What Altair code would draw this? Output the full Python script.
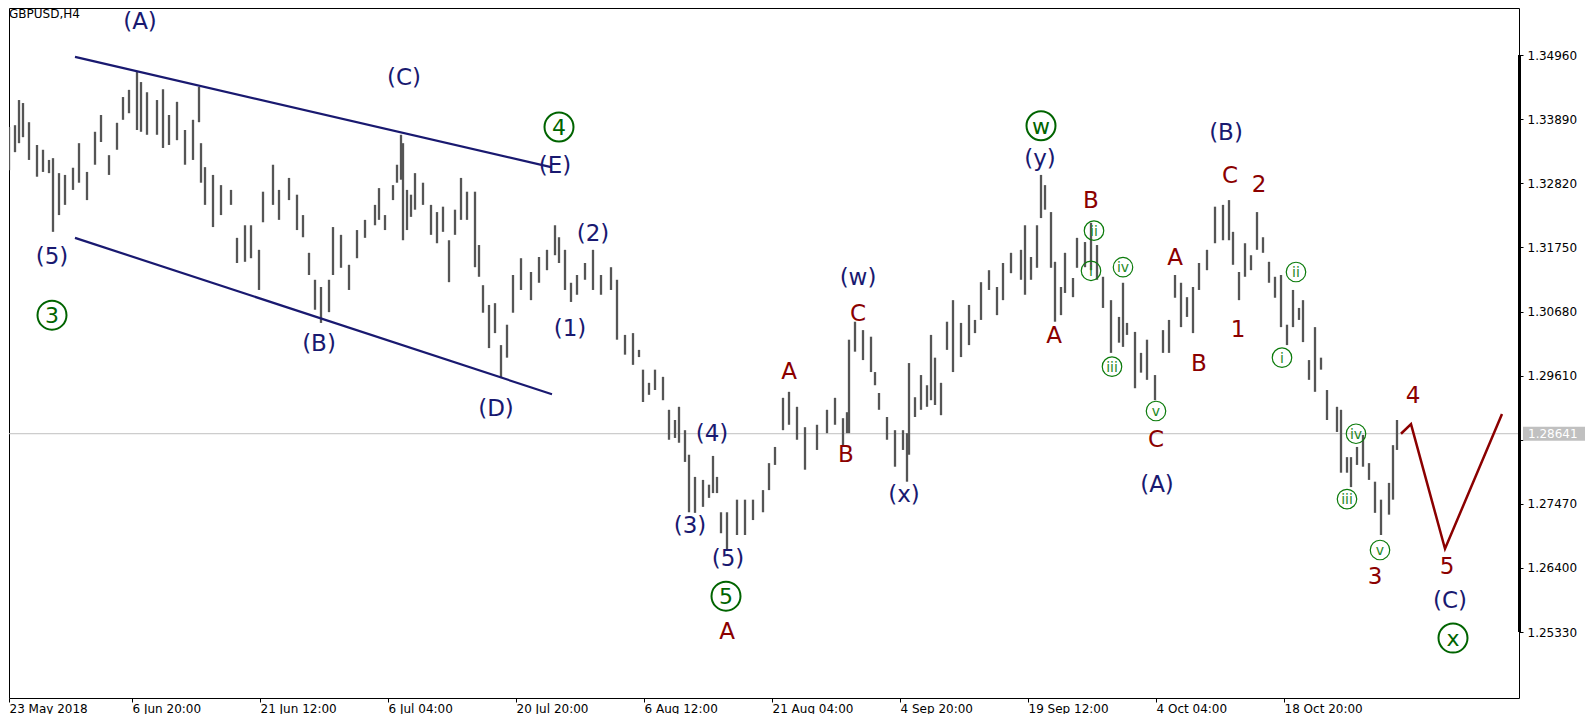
import json
import altair as alt
import pandas as pd

# ---------------- data ----------------
# bar time index (H4 bars from 23 May 2018), high and low prices
bar_t = [1, 3, 6, 8, 10, 13, 17, 20, 23, 25, 28, 31, 35, 38, 42, 46, 49, 53, 57, 60,
         63, 67, 69, 72, 77, 80, 83, 87, 91, 95, 98, 99, 101, 105, 109, 114, 117, 121, 124, 128, 130,
         135, 138, 143, 147, 150, 153, 156, 159, 163, 165, 169, 173, 177, 181, 186, 188, 191, 195, 197, 199,
         200, 202, 204, 206, 210, 214, 217, 220, 223, 226, 229, 232, 236, 238, 240, 243, 246, 249, 252, 255,
         259, 264, 268,
         272, 276, 278, 281, 284, 287, 291, 295, 299, 304, 307, 311, 315, 318, 320, 323, 326, 330, 333, 336,
         338, 341, 343, 346, 350, 353, 355, 357, 359, 362, 367, 371, 375, 380, 383, 386, 390, 393, 397,
         401, 407, 412, 416, 420, 422, 423, 426, 430, 434, 436, 438, 442, 446, 450, 452, 453, 456, 459, 462,
         464, 466, 469, 472, 475, 479, 483, 486, 489, 493, 497, 500, 504, 509, 511, 514, 517, 519, 521, 524, 526,
         529, 531, 535, 537, 541, 544, 547, 550, 554, 558, 560, 562, 566, 569, 572, 576, 580, 583, 586, 589,
         592, 595, 598, 602, 606, 610, 613, 615, 618, 621, 624, 627, 630, 633, 636, 639, 642, 645, 648,
         650, 653, 656, 659, 662, 667, 669, 672, 674, 677, 680, 683, 686, 689, 693, 695, 697]

bar_high = [1.3416, 1.3376, 1.3379, 1.3421, 1.3416, 1.3384, 1.3346, 1.3338, 1.3321, 1.3324, 1.3299, 1.3296,
            1.3308, 1.3349, 1.3301, 1.3368, 1.3396, 1.3329, 1.3383, 1.3426, 1.3438, 1.3468, 1.3451, 1.3434,
            1.3421, 1.3439, 1.3396, 1.3418, 1.3371, 1.3388, 1.3443, 1.3349, 1.3309, 1.3296, 1.3279, 1.3271,
            1.3191, 1.3212, 1.3212, 1.3171, 1.3268,
            1.3313, 1.3271, 1.3291, 1.3263, 1.3229, 1.3166, 1.3121, 1.3109, 1.3121, 1.3209,
            1.3196, 1.3146, 1.3204, 1.3221, 1.3246, 1.3274, 1.3229, 1.3279, 1.3313, 1.3363,
            1.3349, 1.3271, 1.3263, 1.3299, 1.3283, 1.3246, 1.3234, 1.3243, 1.3187, 1.3238,
            1.3291, 1.3268, 1.3268, 1.3179, 1.3112, 1.3079, 1.3082, 1.3012, 1.3046, 1.3129,
            1.3157, 1.3134, 1.3159,
            1.3171, 1.3212, 1.3192, 1.3171, 1.3116, 1.3129, 1.3149, 1.3171, 1.3129, 1.3142,
            1.3121, 1.3029, 1.3032, 1.3004, 1.2971, 1.2949, 1.2971, 1.2959, 1.2904, 1.2887,
            1.2909, 1.2870, 1.2829, 1.2792, 1.2787, 1.2779, 1.2827, 1.2792, 1.2733, 1.2733,
            1.2754, 1.2754, 1.2754, 1.2770, 1.2815, 1.2842, 1.2924, 1.2934, 1.2909,
            1.2875, 1.2879, 1.2904, 1.2924, 1.2890, 1.2900, 1.3021, 1.3051, 1.3037, 1.3026,
            1.2967, 1.2932, 1.2892, 1.2870, 1.2870, 1.2865, 1.2982, 1.2925, 1.2962, 1.2945,
            1.3029, 1.2991, 1.2949, 1.3051, 1.3087, 1.3049, 1.3079, 1.3054, 1.3117, 1.3137,
            1.3109, 1.3149, 1.3166, 1.3171, 1.3212, 1.3159, 1.3212, 1.3296, 1.3279, 1.3234,
            1.3151,
            1.3109, 1.3166, 1.3124, 1.3191, 1.3184, 1.3216, 1.3179, 1.3126, 1.3087, 1.3059,
            1.3116, 1.3049, 1.3034, 1.2999, 1.3021, 1.2962, 1.3037, 1.3054, 1.3129, 1.3116,
            1.3092, 1.3109, 1.3149, 1.3171, 1.3243, 1.3246, 1.3254, 1.3201, 1.3134, 1.3182,
            1.3162, 1.3234, 1.3192, 1.3151, 1.3126, 1.3129, 1.3046, 1.3104, 1.3074,
            1.3087, 1.2987, 1.3042, 1.2991, 1.2937, 1.2909, 1.2904, 1.2825, 1.2825, 1.2842,
            1.2862, 1.2815, 1.2784, 1.2754, 1.2782, 1.2845, 1.2887]

bar_low = [1.3343, 1.3304, 1.3334, 1.3349, 1.3359, 1.3321, 1.3293, 1.3301, 1.3299, 1.3201, 1.3229, 1.3246,
           1.3271, 1.3283, 1.3254, 1.3313, 1.3351, 1.3296, 1.3338, 1.3388, 1.3399, 1.3371, 1.3368, 1.3363,
           1.3363, 1.3341, 1.3346, 1.3354, 1.3313, 1.3321, 1.3384, 1.3283, 1.3246, 1.3209, 1.3229, 1.3246,
           1.3149, 1.3151, 1.3157, 1.3104, 1.3217,
           1.3246, 1.3221, 1.3254, 1.3204, 1.3192, 1.3129, 1.3071, 1.3049, 1.3067, 1.3129,
           1.3141, 1.3104, 1.3157, 1.3191, 1.3212, 1.3221, 1.3204, 1.3254, 1.3283, 1.3288,
           1.3187, 1.3204, 1.3226, 1.3238, 1.3246, 1.3196, 1.3182, 1.3201, 1.3117, 1.3196,
           1.3221, 1.3221, 1.3142, 1.3126, 1.3066, 1.3007, 1.3032, 1.2957, 1.2991, 1.3066,
           1.3104, 1.3087, 1.3116,
           1.3137, 1.3162, 1.3149, 1.3104, 1.3084, 1.3096, 1.3121, 1.3104, 1.3096, 1.3104,
           1.3021, 1.2996, 1.2979, 1.2992, 1.2917, 1.2929, 1.2937, 1.2920, 1.2854, 1.2857,
           1.2849, 1.2817, 1.2733, 1.2732, 1.2742, 1.2757, 1.2765, 1.2765, 1.2698, 1.2670,
           1.2695, 1.2695, 1.2720, 1.2733, 1.2770, 1.2812, 1.2870, 1.2879, 1.2854,
           1.2804, 1.2837, 1.2865, 1.2879, 1.2845, 1.2865, 1.2865, 1.3001, 1.2987, 1.2967,
           1.2945, 1.2904, 1.2854, 1.2809, 1.2837, 1.2784, 1.2829, 1.2892, 1.2904, 1.2909,
           1.2920, 1.2912, 1.2895, 1.3004, 1.2967, 1.2992, 1.3012, 1.3032, 1.3054, 1.3104,
           1.3062, 1.3087, 1.3132, 1.3121, 1.3096, 1.3121, 1.3141, 1.3224, 1.3238, 1.3141,
           1.3051,
           1.3062, 1.3099, 1.3092, 1.3141, 1.3142, 1.3137, 1.3121, 1.3074, 1.2999, 1.3016,
           1.3009, 1.3029, 1.2940, 1.2966, 1.2954, 1.2920, 1.2999, 1.2999, 1.3091, 1.3042,
           1.3059, 1.3032, 1.3104, 1.3137, 1.3182, 1.3187, 1.3187, 1.3146, 1.3087, 1.3126,
           1.3137, 1.3171, 1.3166, 1.3116, 1.3091, 1.3042, 1.3012, 1.3042, 1.3054,
           1.3017, 1.2954, 1.2934, 1.2971, 1.2887, 1.2867, 1.2799, 1.2799, 1.2775, 1.2812,
           1.2809, 1.2787, 1.2732, 1.2695, 1.2729, 1.2754, 1.2837]

x_tick_pos = [3, 64.5, 128.5, 192.5, 256.5, 320.5, 384.5, 448.5, 512.5, 576.5, 640.5]
x_tick_labels = ["23 May 2018", "6 Jun 20:00", "21 Jun 12:00", "6 Jul 04:00", "20 Jul 20:00",
                 "6 Aug 12:00", "21 Aug 04:00", "4 Sep 20:00", "19 Sep 12:00", "4 Oct 04:00",
                 "18 Oct 20:00"]
y_ticks = [1.25330, 1.26400, 1.27470, 1.28540, 1.29610, 1.30680, 1.31750, 1.32820, 1.33890, 1.34960]
hidden_tick = 1.28540   # covered by the current-price box
last_price = 1.28641
symbol_title = "GBPUSD,H4"

# triangle channel lines
channel_id = ["upper", "upper", "lower", "lower"]
channel_t = [36, 274, 36, 274.5]
channel_p = [1.3493, 1.3309, 1.3191, 1.2930]

# projected path (4 - 5 - up)
proj_t = [699, 704, 721, 749.5]
proj_p = [1.2864, 1.2880, 1.2672, 1.2897]

# wave labels
navy_text = ["(A)", "(5)", "(C)", "(B)", "(D)", "(E)", "(2)", "(1)", "(4)", "(3)", "(5)",
             "(w)", "(x)", "(y)", "(A)", "(B)", "(C)"]
navy_t = [68.5, 24.5, 200.5, 158, 246.5, 276, 295, 283.5, 354.5, 343.5, 362.5,
          427.5, 450.5, 518.5, 577, 611.5, 723.5]
navy_p = [1.3551, 1.3159, 1.3458, 1.3014, 1.2905, 1.3311, 1.3198, 1.3039, 1.2864, 1.2710, 1.2655,
          1.3124, 1.2762, 1.3323, 1.2779, 1.3366, 1.2585]

red_text = ["A", "A", "B", "C", "A", "B", "C", "A", "B", "C", "2", "1", "3", "4", "5"]
red_t = [362, 393, 421.5, 427.5, 525.5, 544, 576.5, 586, 598, 613.5, 628, 617.5, 686, 705, 722]
red_p = [1.2533, 1.2967, 1.2829, 1.3064, 1.3027, 1.3253, 1.2854, 1.3157, 1.2981, 1.3294, 1.3279,
         1.3037, 1.2625, 1.2927, 1.2642]

big_text = ["3", "4", "5", "w", "x"]
big_t = [24.5, 278, 361.5, 519, 725]
big_p = [1.3062, 1.3376, 1.2593, 1.3378, 1.2523]

small_text = ["ii", "i", "iv", "iii", "v", "ii", "i", "iv", "iii", "v"]
small_t = [545.5, 544, 560, 554.5, 576.5, 646.5, 639.5, 676.5, 672, 688.5]
small_p = [1.3203, 1.3136, 1.3142, 1.2976, 1.2902, 1.3134, 1.2991, 1.2864, 1.2755, 1.2670]

# ---------------- chart ----------------
W, H = 1510, 690
X_DOM = [3, 758]
Y_DOM = [1.24230, 1.35746]
px_price = (Y_DOM[1] - Y_DOM[0]) / H

FONT = "DejaVu Sans"
NAVY = "#191970"
RED = "#8b0000"
GREEN = "#006400"
SGREEN = "#1f8a1f"

xs = alt.Scale(domain=X_DOM, nice=False, zero=False)
ys = alt.Scale(domain=Y_DOM, nice=False, zero=False)

x_label_expr = "{}[indexof({}, datum.value)]".format(json.dumps(x_tick_labels), json.dumps(x_tick_pos))
y_label_expr = "abs(datum.value - {}) < 0.00001 ? '' : format(datum.value, '.5f')".format(hidden_tick)

x_axis = alt.Axis(
    values=x_tick_pos, labelExpr=x_label_expr, title=None, grid=False, domain=False,
    ticks=True, tickSize=4, tickColor="black", labelAlign="left", labelFont=FONT,
    labelFontSize=12, labelColor="black", labelPadding=1, labelOverlap=False,
    labelBound=False, labelFlush=False)
y_axis = alt.Axis(
    orient="right", values=y_ticks, labelExpr=y_label_expr, title=None, grid=False, domain=False,
    ticks=True, tickSize=4, tickColor="black", labelFont=FONT, labelFontSize=12,
    labelColor="black", labelPadding=4, labelOverlap=False, labelBound=False,
    labelFlush=False)


def X(f):
    return alt.X(f, type="quantitative", scale=xs, axis=x_axis)


def Y(f):
    return alt.Y(f, type="quantitative", scale=ys, axis=y_axis)


bars_df = pd.DataFrame({"t": bar_t, "hi": bar_high, "lo": bar_low})

bars = alt.Chart(bars_df).mark_rule(color="#555555", strokeWidth=2.3, clip=True).encode(
    x=X("t"), y=Y("lo"), y2="hi:Q")

price_df = pd.DataFrame({"p": [last_price], "p_hi": [last_price + 7 * px_price],
                         "p_lo": [last_price - 7 * px_price], "s": ["%.5f" % last_price]})

price_line = alt.Chart(price_df).mark_rule(color="#c0c0c0", strokeWidth=1).encode(y=Y("p"))

chan_df = pd.DataFrame({"line": channel_id, "t": channel_t, "p": channel_p})
channel = alt.Chart(chan_df).mark_line(color=NAVY, strokeWidth=2.2).encode(
    x=X("t"), y=Y("p"), detail="line:N")

proj_df = pd.DataFrame({"t": proj_t, "p": proj_p, "o": list(range(len(proj_t)))})
proj = alt.Chart(proj_df).mark_line(color=RED, strokeWidth=2.5).encode(
    x=X("t"), y=Y("p"), order="o:Q")

navy_df = pd.DataFrame({"t": navy_t, "p": navy_p, "s": navy_text})
navy = alt.Chart(navy_df).mark_text(color=NAVY, font=FONT, fontSize=23, align="center",
                                    baseline="middle").encode(x=X("t"), y=Y("p"), text="s:N")

red_df = pd.DataFrame({"t": red_t, "p": red_p, "s": red_text})
red = alt.Chart(red_df).mark_text(color=RED, font=FONT, fontSize=23, align="center",
                                  baseline="middle").encode(x=X("t"), y=Y("p"), text="s:N")

big_df = pd.DataFrame({"t": big_t, "p": big_p, "s": big_text})
big_c = alt.Chart(big_df).mark_point(shape="circle", filled=False, size=841, stroke=GREEN,
                                     strokeWidth=2, opacity=1).encode(x=X("t"), y=Y("p"))
big_s = alt.Chart(big_df).mark_text(color=GREEN, font=FONT, fontSize=22, align="center",
                                    baseline="middle", dy=1).encode(x=X("t"), y=Y("p"), text="s:N")

small_df = pd.DataFrame({"t": small_t, "p": small_p, "s": small_text})
small_c = alt.Chart(small_df).mark_point(shape="circle", filled=False, size=380, stroke="#0a7a0a",
                                         strokeWidth=1.2, opacity=1).encode(x=X("t"), y=Y("p"))
small_s = alt.Chart(small_df).mark_text(color=SGREEN, font=FONT, fontSize=14, align="center",
                                        baseline="middle", dy=1).encode(x=X("t"), y=Y("p"), text="s:N")

scale_df = pd.DataFrame({"p1": [y_ticks[-1]], "p2": [y_ticks[0]]})
scale_bar = alt.Chart(scale_df).mark_rule(color="black", strokeWidth=3).encode(
    x=alt.value(W + 0.5), y=Y("p1"), y2="p2:Q")

box = alt.Chart(price_df).mark_rect(color="#c0c0c0").encode(
    x=alt.value(W + 4), x2=alt.value(W + 66), y=Y("p_hi"), y2="p_lo:Q")
box_text = alt.Chart(price_df).mark_text(color="white", font=FONT, fontSize=12, align="left",
                                         baseline="middle").encode(
    x=alt.value(W + 9), y=Y("p"), text="s:N")

title_df = pd.DataFrame({"s": [symbol_title]})
title = alt.Chart(title_df).mark_text(color="black", font=FONT, fontSize=12, align="left",
                                      baseline="middle").encode(
    x=alt.value(0), y=alt.value(6), text="s:N")

chart = alt.layer(
    price_line, bars, channel, proj, navy, red, big_c, big_s, small_c, small_s,
    scale_bar, box, box_text, title
).properties(
    width=W, height=H, padding=0, background="white"
).configure_view(stroke="black", strokeWidth=1)

chart.save("out.html", embed_options={"renderer": "svg", "actions": False})
